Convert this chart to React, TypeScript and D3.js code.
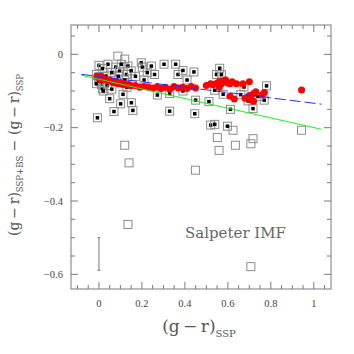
import React from 'react';
import * as d3 from 'd3';

// squares with a black dot inside
const dotX = [0, 0.042, 0.016, -0.012, 0, 0.011, 0.016, 0.039, 0.078, 0.104, 0.096, 0.128, 0.135, 0.05, 0.112, 0.101, 0.151, 0.07, 0.158, -0.007, 0.197, 0.202, 0.244, 0.225, 0.259, 0.303, 0.357, 0.368, 0.391, 0.442, 0.391, 0.272, 0.329, 0.329, 0.446, 0.562, 0.547, 0.57, 0.57, 0.539, 0.578, 0.78, 0.675, 0.769, 0.717, 0.694, 0.45, 0.512, 0.612, 0.52, 0.539, 0.598, 0.034, 0, -0.012, 0.06, 0.09, 0.12, 0.15, 0.02, 0.06, 0.13, 0.17, 0.21, 0.41, 0.66, 0.74];
const dotY = [-0.03, -0.027, -0.039, -0.055, -0.062, -0.082, -0.094, -0.085, -0.035, -0.027, -0.046, -0.055, -0.032, -0.121, -0.109, -0.135, -0.132, -0.156, -0.153, -0.173, -0.023, -0.035, -0.032, -0.05, -0.055, -0.027, -0.027, -0.055, -0.044, -0.048, -0.1, -0.111, -0.107, -0.155, -0.162, -0.038, -0.055, -0.055, -0.073, -0.098, -0.109, -0.086, -0.089, -0.125, -0.148, -0.127, -0.125, -0.129, -0.15, -0.193, -0.191, -0.196, -0.059, -0.073, -0.08, -0.05, -0.06, -0.07, -0.045, -0.1, -0.095, -0.09, -0.06, -0.07, -0.07, -0.11, -0.115];

// open squares
const openX = [0.088, 0.12, 0.624, 0.943, 0.551, 0.717, 0.707, 0.559, 0.635, 0.449, 0.707, 0.12, 0.14, 0.135];
const openY = [-0.005, -0.013, -0.207, -0.207, -0.227, -0.23, -0.244, -0.262, -0.248, -0.316, -0.579, -0.248, -0.296, -0.464];

// red circles
const redX = [-0.01, 0, 0.01, 0.015, 0.02, 0.03, 0.04, 0.05, 0.06, 0.07, 0.08, 0.09, 0.1, 0.11, 0.12, 0.13, 0.14, 0.15, 0.17, 0.19, 0.21, 0.23, 0.25, 0.27, 0.29, 0.31, 0.33, 0.35, 0.37, 0.39, 0.41, 0.43, 0.45, 0.5, 0.52, 0.53, 0.55, 0.56, 0.57, 0.58, 0.59, 0.6, 0.61, 0.56, 0.62, 0.64, 0.67, 0.7, 0.61, 0.63, 0.68, 0.7, 0.72, 0.73, 0.71, 0.72, 0.76, 0.77, 0.943];
const redY = [-0.06, -0.065, -0.06, -0.07, -0.066, -0.068, -0.072, -0.07, -0.075, -0.078, -0.074, -0.08, -0.078, -0.082, -0.08, -0.084, -0.082, -0.086, -0.085, -0.09, -0.088, -0.09, -0.092, -0.089, -0.093, -0.09, -0.095, -0.088, -0.092, -0.09, -0.093, -0.088, -0.092, -0.085, -0.08, -0.083, -0.078, -0.075, -0.08, -0.072, -0.07, -0.078, -0.08, -0.09, -0.075, -0.08, -0.08, -0.075, -0.114, -0.122, -0.12, -0.112, -0.107, -0.102, -0.125, -0.128, -0.11, -0.104, -0.097];

// fit lines: [x0, x1], [y0, y1]
const blueX = [-0.082, 1.036];
const blueY = [-0.0545, -0.136];
const greenX = [-0.082, 1.036];
const greenY = [-0.057, -0.2045];

// error bar
const errX = 0;
const errY = [-0.5, -0.589];

const xTicks = [0, 0.2, 0.4, 0.6, 0.8, 1];
const yTicks = [0, -0.2, -0.4, -0.6];

const W = 354, H = 354;
const margin = { top: 25, right: 23, bottom: 65, left: 71 };

const App = () => {
  const x = d3.scaleLinear().domain([-0.13, 1.08]).range([margin.left, W - margin.right]);
  const y = d3.scaleLinear().domain([-0.64, 0.08]).range([H - margin.bottom, margin.top]);
  const x0 = margin.left, x1 = W - margin.right, y0 = margin.top, y1 = H - margin.bottom;

  const xMinor = d3.range(-0.1, 1.08, 0.05).map(v => +v.toFixed(2));
  const yMinor = d3.range(-0.6, 0.08, 0.05).map(v => +v.toFixed(2));
  const axisCol = '#7a7a7a';
  const textCol = '#555';
  const fmt = (v: number) => (v === 0 ? '0' : d3.format('')(v).replace('-', '\u2212'));

  const line = d3.line<[number, number]>().x(d => x(d[0])).y(d => y(d[1]));
  const sq = 8;

  return (
    <svg width={W} height={H} style={{ position: 'absolute', left: 0, top: 0, background: 'white' }}
      fontFamily="'DejaVu Serif', serif">
      {/* open squares */}
      {openX.map((v, i) => (
        <rect key={'o' + i} x={x(v) - sq / 2} y={y(openY[i]) - sq / 2} width={sq} height={sq}
          fill="none" stroke="#8c8c8c" strokeWidth={1} />
      ))}
      {/* squares with dots */}
      {dotX.map((v, i) => (
        <g key={'d' + i}>
          <rect x={x(v) - sq / 2} y={y(dotY[i]) - sq / 2} width={sq} height={sq}
            fill="none" stroke="#8c8c8c" strokeWidth={1} />
          <rect x={x(v) - 1.75} y={y(dotY[i]) - 1.75} width={3.5} height={3.5} fill="#000" />
        </g>
      ))}
      {/* red circles */}
      {redX.map((v, i) => (
        <circle key={'r' + i} cx={x(v)} cy={y(redY[i])} r={3.5} fill="#ff0000" />
      ))}
      {/* fit lines */}
      <path d={line(greenX.map((v, i) => [v, greenY[i]]) as any) || ''} stroke="#22ee22" strokeWidth={1} fill="none" />
      <path d={line(blueX.map((v, i) => [v, blueY[i]]) as any) || ''} stroke="#2a2aff" strokeWidth={1} fill="none" strokeDasharray="11,4" />
      {/* error bar */}
      <g stroke={axisCol} strokeWidth={1}>
        <line x1={x(errX)} x2={x(errX)} y1={y(errY[0])} y2={y(errY[1])} />
        <line x1={x(errX) - 1.5} x2={x(errX) + 1.5} y1={y(errY[0])} y2={y(errY[0])} />
        <line x1={x(errX) - 1.5} x2={x(errX) + 1.5} y1={y(errY[1])} y2={y(errY[1])} />
      </g>
      {/* frame & ticks */}
      <rect x={x0} y={y0} width={x1 - x0} height={y1 - y0} fill="none" stroke={axisCol} strokeWidth={1} />
      <g stroke={axisCol} strokeWidth={1}>
        {xMinor.map(v => {
          const major = xTicks.some(t => Math.abs(t - v) < 1e-6);
          const l = major ? 7 : 4;
          return (
            <g key={'xt' + v}>
              <line x1={x(v)} x2={x(v)} y1={y1} y2={y1 - l} />
              <line x1={x(v)} x2={x(v)} y1={y0} y2={y0 + l} />
            </g>
          );
        })}
        {yMinor.map(v => {
          const major = yTicks.some(t => Math.abs(t - v) < 1e-6);
          const l = major ? 7 : 4;
          return (
            <g key={'yt' + v}>
              <line x1={x0} x2={x0 + l} y1={y(v)} y2={y(v)} />
              <line x1={x1} x2={x1 - l} y1={y(v)} y2={y(v)} />
            </g>
          );
        })}
      </g>
      {/* tick labels */}
      <g fill="#444" fontSize={10.5} fontFamily="'Liberation Serif', serif">
        {xTicks.map(v => (
          <text key={'xl' + v} x={x(v)} y={y1 + 18} textAnchor="middle">{fmt(v)}</text>
        ))}
        {yTicks.map(v => (
          <text key={'yl' + v} x={x0 - 8} y={y(v) + 3.5} textAnchor="end">{fmt(v)}</text>
        ))}
      </g>
      {/* annotation */}
      <text x={185} y={238} fontSize={15} fill="#666">Salpeter IMF</text>
      {/* x axis label */}
      <text x={(x0 + x1) / 2 - 2} y={332} textAnchor="middle" fontSize={17} fill={textCol}>
        (g{'\u2009\u2212\u2009'}r)<tspan fontSize={10} dy={5}>SSP</tspan>
      </text>
      {/* y axis label */}
      <text transform={`translate(19,${(y0 + y1) / 2 - 2}) rotate(-90)`} textAnchor="middle" fontSize={14} fill={textCol}>
        (g{'\u2009\u2212\u2009'}r)<tspan fontSize={8.5} dy={4}>SSP+BS</tspan>
        <tspan dy={-4}>{' \u2212 '}(g{'\u2009\u2212\u2009'}r)</tspan>
        <tspan fontSize={8.5} dy={4}>SSP</tspan>
      </text>
    </svg>
  );
};

export default App;
